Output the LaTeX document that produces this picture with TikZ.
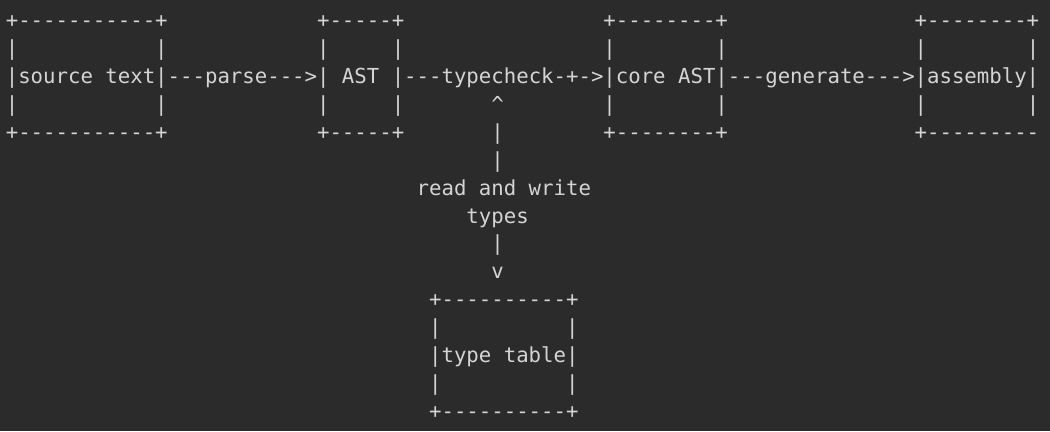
\documentclass[tikz,border=0pt]{standalone}
\usepackage{fontspec}
\newfontfamily\asciifont{DejaVu Sans Mono}[WordSpace={1,0,0}]
\usetikzlibrary{positioning}
\definecolor{termbg}{HTML}{2B2B2B}
\definecolor{termfg}{HTML}{D4D4D4}
\begin{document}
\begin{tikzpicture}
  [x=0.249cm,y=-0.558cm,
   ascii/.style={anchor=base west,inner sep=0pt,outer sep=0pt,text=termfg,
     font=\asciifont\fontsize{11.77}{14}\selectfont},
   frame/.style={ascii},
   link/.style={ascii}]
  \fill[termbg] (-0.466,-0.993) rectangle (83.87,14.455);
  \useasboundingbox (-0.466,-0.993) rectangle (83.87,14.455);
  % source text box
  \node[frame] (src_top) at (0,0) {+-----------+};
  \node[frame] (src_up)  at (0,1) {|\phantom{-----------}|};
  \node[frame] (src)     at (0,2) {|source text|};
  \node[frame] (src_dn)  at (0,3) {|\phantom{-----------}|};
  \node[frame] (src_bot) at (0,4) {+-----------+};
  % AST box
  \node[frame] (ast_top) at (25,0) {+-----+};
  \node[frame] (ast_up)  at (25,1) {|\phantom{-----}|};
  \node[frame] (ast)     at (25,2) {| AST |};
  \node[frame] (ast_dn)  at (25,3) {|\phantom{-----}|};
  \node[frame] (ast_bot) at (25,4) {+-----+};
  % core AST box
  \node[frame] (core_top) at (48,0) {+--------+};
  \node[frame] (core_up)  at (48,1) {|\phantom{--------}|};
  \node[frame] (core)     at (48,2) {|core AST|};
  \node[frame] (core_dn)  at (48,3) {|\phantom{--------}|};
  \node[frame] (core_bot) at (48,4) {+--------+};
  % assembly box
  \node[frame] (asm_top) at (73,0) {+--------+};
  \node[frame] (asm_up)  at (73,1) {|\phantom{--------}|};
  \node[frame] (asm)     at (73,2) {|assembly|};
  \node[frame] (asm_dn)  at (73,3) {|\phantom{--------}|};
  \node[frame] (asm_bot) at (73,4) {+---------};
  % type table box
  \node[frame] (tab_top) at (34,10) {+----------+};
  \node[frame] (tab_up)  at (34,11) {|\phantom{----------}|};
  \node[frame] (tab)     at (34,12) {|type table|};
  \node[frame] (tab_dn)  at (34,13) {|\phantom{----------}|};
  \node[frame] (tab_bot) at (34,14) {+----------+};
  % links on the middle row
  \node[link,base right=0pt of src]  (parse)     {---parse--->};
  \node[link,base right=0pt of ast]  (typecheck) {---typecheck-+->};
  \node[link,base right=0pt of core] (generate)  {---generate--->};
  % link between typecheck and type table
  \node[link] (rw_up)   at (39,3) {\textasciicircum};
  \node[link] (rw_bar1) at (39,4) {|};
  \node[link] (rw_bar2) at (39,5) {|};
  \node[link] (rw)      at (33,6) {read and write};
  \node[link] (rw_more) at (37,7) {types};
  \node[link] (rw_bar3) at (39,8) {|};
  \node[link] (rw_down) at (39,9) {v};
\end{tikzpicture}
\end{document}
